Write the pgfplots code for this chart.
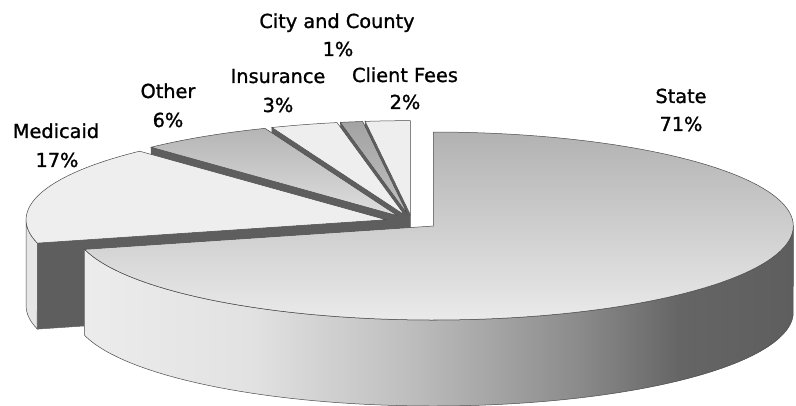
\documentclass[border=0pt]{standalone}
\usepackage{pgfplots}
\pgfplotsset{compat=1.18}
\usepackage{fontspec}
\setmainfont{DejaVu Sans}[FakeBold=1.2]

\definecolor{dark}{HTML}{5E5E5E}
\definecolor{edge}{HTML}{4A4A4A}
\definecolor{lightA}{HTML}{EEEEEE}
\definecolor{lightB}{HTML}{ECECEC}
\definecolor{meside}{HTML}{E6E6E6}
\definecolor{ss0}{HTML}{ECECEC}
\definecolor{ss1}{HTML}{E2E2E2}
\definecolor{ss2}{HTML}{C0C0C0}
\definecolor{ss3}{HTML}{A3A3A3}
\definecolor{ss4}{HTML}{8A8A8A}
\definecolor{ss5}{HTML}{656565}
\definecolor{ss6}{HTML}{5E5E5E}
\pgfdeclarehorizontalshading{stateside}{100bp}{color(0bp)=(ss0); color(25bp)=(ss0); color(36.7bp)=(ss1); color(47.3bp)=(ss2); color(54.3bp)=(ss3); color(60bp)=(ss4); color(67bp)=(ss5); color(75bp)=(ss6); color(100bp)=(ss6)}

% pie geometry (picture units = pixels of the reference)
\def\pieOx{412}\def\pieOy{184.3}\def\pieRx{360}\def\pieRy{94}\def\pieH{86}\def\pieE{0.075}

% #1 prefix, #2 cumulative percent before, #3 percent of slice
\newcommand\setslice[3]{%
 \pgfmathsetmacro\tA{90-3.6*(#2+#3)}%
 \pgfmathsetmacro\tB{90-3.6*(#2)}%
 \pgfmathsetmacro\tM{90-3.6*(#2+0.5*#3)}%
 \pgfmathsetmacro\tX{\pieOx+\pieE*\pieRx*cos(\tM)}%
 \pgfmathsetmacro\tY{\pieOy+\pieE*\pieRy*sin(\tM)}%
 \pgfmathsetmacro\tPx{\tX+\pieRx*cos(\tB)}%
 \pgfmathsetmacro\tPy{\tY+\pieRy*sin(\tB)}%
 \pgfmathsetmacro\tYh{\tY-\pieH}%
 \pgfmathsetmacro\tPyh{\tPy-\pieH}%
 \expandafter\let\csname#1A\endcsname\tA
 \expandafter\let\csname#1B\endcsname\tB
 \expandafter\let\csname#1X\endcsname\tX
 \expandafter\let\csname#1Y\endcsname\tY
 \expandafter\let\csname#1Px\endcsname\tPx
 \expandafter\let\csname#1Py\endcsname\tPy
 \expandafter\let\csname#1Yh\endcsname\tYh
 \expandafter\let\csname#1Pyh\endcsname\tPyh
}
\setslice{St}{0}{71}
\setslice{Me}{71}{17}
\setslice{Ot}{88}{6}
\setslice{In}{94}{3}
\setslice{Ci}{97}{1}
\setslice{Cl}{98}{2}

\newcommand\topface[2]{%
 \addplot[#2, mark=none, line width=0.5pt, domain=\csname#1A\endcsname:\csname#1B\endcsname, samples=120, variable=\t]
 ({\csname#1X\endcsname+\pieRx*cos(\t)},{\csname#1Y\endcsname+\pieRy*sin(\t)})
 -- (axis cs:\csname#1X\endcsname,\csname#1Y\endcsname) -- cycle;}

\newcommand\sideface[4]{%
 \addplot[#4, mark=none, line width=0.5pt, domain=0:2, samples=241, variable=\t]
 ({\csname#1X\endcsname+\pieRx*cos( (\t<1) ? ((#2)+((#3)-(#2))*\t) : ((#3)-((#3)-(#2))*(\t-1)) )},
  {\csname#1Y\endcsname+\pieRy*sin( (\t<1) ? ((#2)+((#3)-(#2))*\t) : ((#3)-((#3)-(#2))*(\t-1)) ) - ((\t<1) ? 0 : \pieH)})
 -- cycle;}

\newcommand\radface[1]{%
 \edef\tmpplot{\noexpand\addplot[fill=dark, draw=dark, mark=none, line width=0.5pt] coordinates {(\csname#1X\endcsname,\csname#1Y\endcsname) (\csname#1Px\endcsname,\csname#1Py\endcsname) (\csname#1Px\endcsname,\csname#1Pyh\endcsname) (\csname#1X\endcsname,\csname#1Yh\endcsname)} -- cycle;}%
 \tmpplot}

\begin{document}
\begin{tikzpicture}[font=\fontsize{19.3pt}{23pt}\selectfont]
\begin{axis}[x=1pt, y=1pt, xmin=0, xmax=796, ymin=0, ymax=406,
  hide axis, anchor=origin, at={(0,0)}, clip=true]
% back slices, right to left
\radface{Cl}
\topface{Cl}{fill=lightA, draw=edge}
\radface{Ci}
\topface{Ci}{top color=ss3, bottom color=ss2, draw=edge}
\radface{In}
\topface{In}{fill=lightA, draw=edge}
\radface{Ot}
\topface{Ot}{top color={rgb,255:red,181;green,181;blue,181}, bottom color={rgb,255:red,222;green,222;blue,222}, draw=edge}
% Medicaid
\radface{Me}
\sideface{Me}{-180}{\MeB}{fill=meside, draw=edge}
\topface{Me}{fill=lightA, draw=edge}
% State
\sideface{St}{\StA}{0}{shading=stateside, draw=edge}
\topface{St}{top color={rgb,255:red,178;green,178;blue,178}, bottom color={rgb,255:red,234;green,234;blue,234}, draw=edge}
% labels
\node[anchor=base] at (axis cs:681,303) {State};
\node[anchor=base] at (axis cs:681,275) {71\%};
\node[anchor=base] at (axis cs:56,268) {Medicaid};
\node[anchor=base] at (axis cs:57,239) {17\%};
\node[anchor=base] at (axis cs:168,308) {Other};
\node[anchor=base] at (axis cs:168,279) {6\%};
\node[anchor=base] at (axis cs:278,323) {Insurance};
\node[anchor=base] at (axis cs:278,294) {3\%};
\node[anchor=base] at (axis cs:337,378) {City and County};
\node[anchor=base] at (axis cs:338,350) {1\%};
\node[anchor=base] at (axis cs:405,324) {Client Fees};
\node[anchor=base] at (axis cs:405,297) {2\%};
\end{axis}
\pgfresetboundingbox
\path[use as bounding box] (0,0) rectangle (796pt,406pt);
\end{tikzpicture}
\end{document}
